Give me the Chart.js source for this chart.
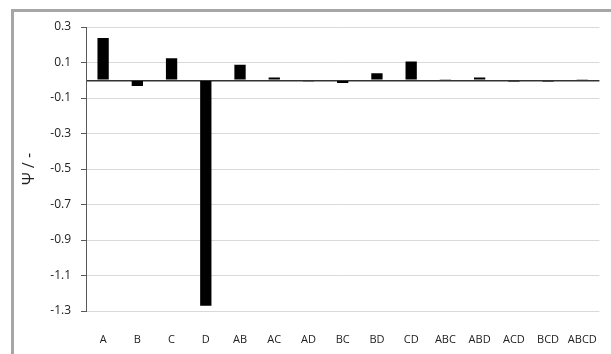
<!DOCTYPE html>
<html>
<head>
<meta charset="utf-8">
<script src="https://cdn.jsdelivr.net/npm/chart.js@4"></script>
<style>
  html, body { margin: 0; padding: 0; background: #fff; overflow: hidden; }
  #wrap { position: relative; width: 611px; height: 354px; }
  #frame {
    position: absolute; left: 11px; top: 9px; right: -10px; bottom: -10px;
    border-left: 3px solid #a6a6a6; border-top: 3px solid #a6a6a6;
    pointer-events: none;
  }
  canvas { position: absolute; left: 0; top: 0; }
</style>
</head>
<body>
<div id="wrap">
  <canvas id="c" width="611" height="354"></canvas>
  <div id="frame"></div>
</div>
<script>
// Effect labels and their psi values
const effects = ['A', 'B', 'C', 'D', 'AB', 'AC', 'AD', 'BC', 'BD', 'CD', 'ABC', 'ABD', 'ACD', 'BCD', 'ABCD'];
const psiValues = [0.238, -0.033, 0.124, -1.27, 0.087, 0.016, -0.005, -0.016, 0.039, 0.105, 0.005, 0.015, -0.007, -0.007, 0.005];
// Y axis tick positions (0 carries the dark baseline, no label)
const yTicks = [-1.3, -1.1, -0.9, -0.7, -0.5, -0.3, -0.1, 0, 0.1, 0.3];
const yTitle = 'Ψ / -';

const font = 'Open Sans';

new Chart(document.getElementById('c'), {
  type: 'bar',
  data: {
    labels: effects,
    datasets: [{
      data: psiValues,
      backgroundColor: '#000',
      borderWidth: 0,
      categoryPercentage: 1,
      barPercentage: 0.33
    }]
  },
  options: {
    responsive: false,
    devicePixelRatio: 1,
    animation: false,
    layout: { padding: { left: 14, top: 27, right: 6, bottom: 7 } },
    plugins: { legend: { display: false }, tooltip: { enabled: false } },
    scales: {
      x: {
        grid: { display: false },
        border: { display: false },
        afterFit: (scale) => { scale.height = 36; },
        ticks: {
          padding: 14,
          color: '#222',
          font: { family: font, size: 11 },
          maxRotation: 0, autoSkip: false
        }
      },
      y: {
        min: -1.3,
        max: 0.3,
        afterBuildTicks: (scale) => { scale.ticks = yTicks.map(v => ({ value: v })); },
        afterFit: (scale) => { scale.width = 72; },
        border: { display: true, color: '#595959', width: 1 },
        grid: {
          color: (ctx) => ctx.tick && ctx.tick.value === 0 ? '#333' : '#d9d9d9',
          lineWidth: (ctx) => ctx.tick && ctx.tick.value === 0 ? 1.5 : 1,
          tickColor: (ctx) => ctx.tick && ctx.tick.value === 0 ? 'rgba(0,0,0,0)' : '#595959',
          tickLength: 5
        },
        ticks: {
          padding: 10,
          color: '#222',
          font: { family: font, size: 12 },
          callback: (v) => v === 0 ? '' : String(Math.round(v * 10) / 10)
        },
        title: {
          display: true,
          text: yTitle,
          color: '#222',
          font: { family: font, size: 16 },
          padding: { top: 6, bottom: 0 }
        }
      }
    }
  }
});
</script>
</body>
</html>
